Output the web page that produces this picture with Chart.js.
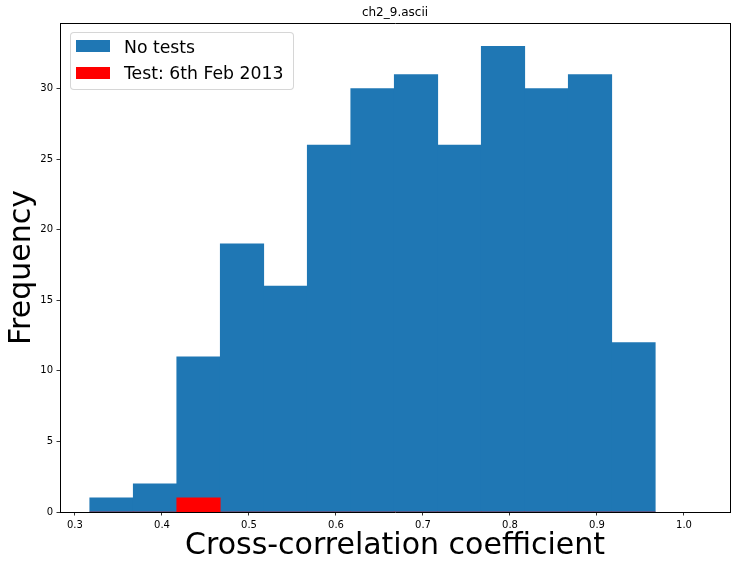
<!DOCTYPE html>
<html>
<head>
<meta charset="utf-8">
<script src="https://cdn.jsdelivr.net/npm/chart.js@4/dist/chart.umd.min.js"></script>
<style>
  html, body { margin: 0; padding: 0; background: #fff; }
  #wrap { position: relative; width: 740px; height: 569px; font-family: "DejaVu Sans", sans-serif; }
  #legend {
    position: absolute; left: 70px; top: 32px; width: 224px; height: 58px;
    box-sizing: border-box; border: 1px solid rgba(204,204,204,0.8);
    border-radius: 4px; background: rgba(255,255,255,0.8);
  }
  #legend .patch { position: absolute; left: 5px; width: 34px; height: 12px; }
  #legend .text { position: absolute; left: 53px; font-size: 17.28px; line-height: 20px; color: #000; white-space: nowrap; }
</style>
</head>
<body>
<div id="wrap">
  <canvas id="hist" width="740" height="569"></canvas>
  <div id="legend"></div>
</div>
<script>
// histogram bins
const binEdges = [0.317, 0.367, 0.417, 0.467, 0.517, 0.567, 0.617, 0.667, 0.717, 0.767, 0.817, 0.867, 0.917, 0.967];
const noTestCounts = [1, 2, 11, 19, 16, 26, 30, 31, 26, 33, 30, 31, 12];
const testCounts = [0, 0, 1, 0, 0, 0, 0, 0, 0, 0, 0, 0, 0];
const xTicks = [0.3, 0.4, 0.5, 0.6, 0.7, 0.8, 0.9, 1.0];
const yTicks = [0, 5, 10, 15, 20, 25, 30];
const seriesLabels = ['No tests', 'Test: 6th Feb 2013'];
const seriesColors = ['#1f77b4', '#ff0000'];

const X_MIN = 0.2828, X_MAX = 1.0529, Y_MAX = 34.65;

const binCenters = binEdges.slice(0, -1).map((e, i) => (e + binEdges[i + 1]) / 2);
const toPoints = (counts) => counts.map((c, i) => ({ x: binCenters[i], y: c }));

const tickFont = { family: 'DejaVu Sans', size: 10 };
const spine = { display: true, color: '#000', width: 1 };
const tickMarks = { drawOnChartArea: false, drawTicks: true, tickLength: 3.5, color: '#000', lineWidth: 0.8, offset: false };

const chart = new Chart(document.getElementById('hist'), {
  type: 'bar',
  data: {
    datasets: [
      { label: seriesLabels[0], data: toPoints(noTestCounts), backgroundColor: seriesColors[0], order: 2 },
      { label: seriesLabels[1], data: toPoints(testCounts), backgroundColor: seriesColors[1], order: 1 },
    ],
  },
  options: {
    responsive: false,
    animation: false,
    layout: { padding: 0 },
    datasets: {
      bar: { grouped: false, barPercentage: 1, categoryPercentage: 1, borderWidth: 0 },
    },
    plugins: { legend: { display: false }, tooltip: { enabled: false } },
    scales: {
      x: {
        type: 'linear', position: 'bottom', min: X_MIN, max: X_MAX, offset: false,
        afterBuildTicks: (s) => { s.ticks = xTicks.map((v) => ({ value: v })); },
        afterFit: (s) => { s.height = 57; },
        ticks: { font: tickFont, color: '#000', padding: 3.5, maxRotation: 0, callback: (v) => v.toFixed(1) },
        grid: tickMarks,
        border: spine,
        title: { display: true, text: 'Cross-correlation coefficient', color: '#000',
          font: { family: 'DejaVu Sans', size: 30 }, padding: { top: 0, bottom: 5 } },
      },
      xTop: {
        type: 'linear', position: 'top', min: X_MIN, max: X_MAX,
        afterFit: (s) => { s.height = 23; },
        ticks: { display: false },
        grid: { display: false },
        border: spine,
        title: { display: true, text: 'ch2_9.ascii', color: '#000',
          font: { family: 'DejaVu Sans', size: 12 }, padding: { top: 6, bottom: 0 } },
      },
      y: {
        type: 'linear', position: 'left', min: 0, max: Y_MAX,
        afterBuildTicks: (s) => { s.ticks = yTicks.map((v) => ({ value: v })); },
        afterFit: (s) => { s.width = 60; },
        ticks: { font: tickFont, color: '#000', padding: 3.5 },
        grid: tickMarks,
        border: spine,
        title: { display: true, text: 'Frequency', color: '#000',
          font: { family: 'DejaVu Sans', size: 30 }, padding: { top: 4, bottom: 0 } },
      },
      yRight: {
        type: 'linear', position: 'right', min: 0, max: Y_MAX,
        afterFit: (s) => { s.width = 10; },
        ticks: { display: false },
        grid: { display: false },
        border: spine,
      },
    },
  },
});

// legend box drawn as html, from the same labels and colours
const legendEl = document.getElementById('legend');
chart.data.datasets.forEach((ds, i) => {
  const patch = document.createElement('div');
  patch.className = 'patch';
  patch.style.top = (7 + i * 27) + 'px';
  patch.style.background = ds.backgroundColor;
  const text = document.createElement('div');
  text.className = 'text';
  text.style.top = (3.7 + i * 26.3) + 'px';
  text.textContent = ds.label;
  legendEl.appendChild(patch);
  legendEl.appendChild(text);
});
</script>
</body>
</html>
